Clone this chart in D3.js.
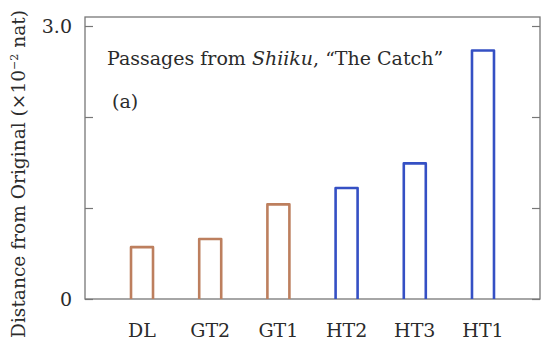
<!DOCTYPE html>
<html><head><meta charset="utf-8">
<script src="https://cdn.jsdelivr.net/npm/d3@7"></script>
<style>
body{margin:0;background:#fff;}
text{font-family:"DejaVu Serif","Liberation Serif",serif;fill:#2b2b2b;}
</style></head>
<body><svg id="c" width="550" height="351"></svg>
<script>
const categories = ["DL","GT2","GT1","HT2","HT3","HT1"];
const values = [0.57,0.66,1.04,1.22,1.49,2.73];
const groups = ["GT","GT","GT","HT","HT","HT"];
const yTicks = [0,1,2,3];
const yTickLabels = ["0","","","3.0"];

const svg = d3.select("#c");
const L=85,R=540,T=17,B=299;
const x = d3.scalePoint().domain(categories).range([L,R]).padding(0.836);
const y = d3.scaleLinear().domain([0,3]).range([B,26]);
const color = {GT:"#bd7f5e", HT:"#3550c4"};
const bw = 22;

// frame
svg.append("rect").attr("x",L).attr("y",T).attr("width",R-L).attr("height",B-T)
  .attr("fill","none").attr("stroke","#777").attr("stroke-width",1.3);

// ticks inward on both sides
const ya = d3.axisRight(y).tickValues(yTicks).tickSize(8).tickFormat("");
const gl = svg.append("g").attr("transform",`translate(${L},0)`).call(ya);
gl.select(".domain").remove();
gl.selectAll("line").attr("stroke","#777").attr("stroke-width",1.2);
const yr = d3.axisLeft(y).tickValues(yTicks).tickSize(8).tickFormat("");
const gr = svg.append("g").attr("transform",`translate(${R},0)`).call(yr);
gr.select(".domain").remove();
gr.selectAll("line").attr("stroke","#777").attr("stroke-width",1.2);

// y tick labels
svg.append("g").selectAll("text").data(yTicks).join("text")
  .attr("x",72).attr("y",d=>y(d)).attr("dy","0.36em").attr("text-anchor","end")
  .attr("font-size",19).text((d,i)=>yTickLabels[i]);

// bars (open-bottom outline)
svg.append("g").selectAll("path").data(categories).join("path")
  .attr("d",(c,i)=>{const cx=x(c),x0=cx-bw/2,x1=cx+bw/2,yt=y(values[i]);
    return `M${x0},${B}V${yt}H${x1}V${B}`;})
  .attr("fill","none").attr("stroke",(c,i)=>color[groups[i]]).attr("stroke-width",2.6)
  .attr("stroke-linejoin","round");

// x labels
svg.append("g").selectAll("text").data(categories).join("text")
  .attr("x",d=>x(d)).attr("y",337).attr("text-anchor","middle").attr("font-size",19).text(d=>d);

// title
const t = svg.append("text").attr("x",107).attr("y",65).attr("font-size",19);
t.append("tspan").text("Passages from ");
t.append("tspan").attr("font-style","italic").text("Shiiku");
t.append("tspan").text(", \u201CThe Catch\u201D");
svg.append("text").attr("x",112).attr("y",108).attr("font-size",19).text("(a)");

// y title
const yt = svg.append("text").attr("transform","translate(25,174) rotate(-90)")
  .attr("text-anchor","middle").attr("font-size",18.6);
yt.append("tspan").text("Distance from Original (\u00D710");
yt.append("tspan").attr("font-size",11).attr("dy",-7).text("\u22122");
yt.append("tspan").attr("dy",7).text(" nat)");
</script></body></html>
